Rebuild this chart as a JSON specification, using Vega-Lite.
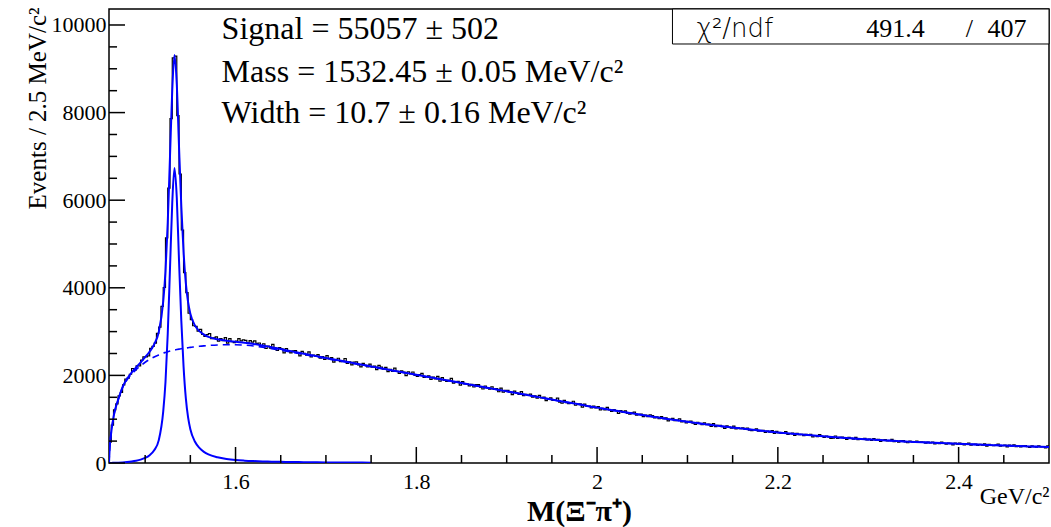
{
"$schema": "https://vega.github.io/schema/vega-lite/v6.json",
"width": 940, "height": 454,
"autosize": {"type": "none"},
"padding": {"left": 109, "top": 9, "right": 2, "bottom": 64},
"background": "white",
"config": {
 "view": {"stroke": "black", "strokeWidth": 1.5},
 "font": "Liberation Serif",
 "axis": {"grid": false, "domain": false, "ticks": false, "labelColor": "black", "titleColor": "black", "labelFont": "Liberation Serif", "titleFont": "Liberation Serif"}
},
"datasets": {
"xmaj": [{"v":1.6},{"v":1.8},{"v":2.0},{"v":2.2},{"v":2.4}],
"xmin": [{"v":1.5},{"v":1.55},{"v":1.65},{"v":1.7},{"v":1.75},{"v":1.85},{"v":1.9},{"v":1.95},{"v":2.05},{"v":2.1},{"v":2.15},{"v":2.25},{"v":2.3},{"v":2.35},{"v":2.45}],
"ymaj": [{"v":0},{"v":2000},{"v":4000},{"v":6000},{"v":8000},{"v":10000}],
"ymin": [{"v":500},{"v":1000},{"v":1500},{"v":2500},{"v":3000},{"v":3500},{"v":4500},{"v":5000},{"v":5500},{"v":6500},{"v":7000},{"v":7500},{"v":8500},{"v":9000},{"v":9500}],
"hist": [
{"m":1.46,"n":478},{"m":1.4625,"n":864},{"m":1.465,"n":1213},{"m":1.4675,"n":1350},{"m":1.47,"n":1533},{"m":1.4725,"n":1610},{"m":1.475,"n":1785},{"m":1.4775,"n":1914},{"m":1.48,"n":1936},{"m":1.4825,"n":2026},{"m":1.485,"n":2157},{"m":1.4875,"n":2119},{"m":1.49,"n":2218},{"m":1.4925,"n":2219},{"m":1.495,"n":2349},{"m":1.4975,"n":2423},{"m":1.5,"n":2424},{"m":1.5025,"n":2447},{"m":1.505,"n":2615},{"m":1.5075,"n":2664},{"m":1.51,"n":2735},{"m":1.5125,"n":2960},{"m":1.515,"n":3101},{"m":1.5175,"n":3574},{"m":1.52,"n":4007},{"m":1.5225,"n":5138},{"m":1.525,"n":6276},{"m":1.5275,"n":7860},{"m":1.53,"n":9250},{"m":1.5325,"n":9290},{"m":1.535,"n":7930},{"m":1.5375,"n":6598},{"m":1.54,"n":5320},{"m":1.5425,"n":4348},{"m":1.545,"n":3889},{"m":1.5475,"n":3419},{"m":1.55,"n":3274},{"m":1.5525,"n":3133},{"m":1.555,"n":3119},{"m":1.5575,"n":3009},
{"m":1.56,"n":3049},{"m":1.5625,"n":2937},{"m":1.565,"n":2891},{"m":1.5675,"n":2931},{"m":1.57,"n":2952},{"m":1.5725,"n":2837},{"m":1.575,"n":2859},{"m":1.5775,"n":2878},{"m":1.58,"n":2784},{"m":1.5825,"n":2841},{"m":1.585,"n":2795},{"m":1.5875,"n":2864},{"m":1.59,"n":2738},{"m":1.5925,"n":2840},{"m":1.595,"n":2769},{"m":1.5975,"n":2747},{"m":1.6,"n":2782},{"m":1.6025,"n":2838},{"m":1.605,"n":2790},{"m":1.6075,"n":2810},{"m":1.61,"n":2800},{"m":1.6125,"n":2740},{"m":1.615,"n":2795},{"m":1.6175,"n":2760},{"m":1.62,"n":2790},{"m":1.6225,"n":2730},{"m":1.625,"n":2740},{"m":1.6275,"n":2673},{"m":1.63,"n":2722},{"m":1.6325,"n":2614},{"m":1.635,"n":2670},{"m":1.6375,"n":2620},{"m":1.64,"n":2707},{"m":1.6425,"n":2625},{"m":1.645,"n":2573},{"m":1.6475,"n":2635},{"m":1.65,"n":2604},{"m":1.6525,"n":2516},{"m":1.655,"n":2614},{"m":1.6575,"n":2557},
{"m":1.66,"n":2512},{"m":1.6625,"n":2561},{"m":1.665,"n":2566},{"m":1.6675,"n":2515},{"m":1.67,"n":2446},{"m":1.6725,"n":2550},{"m":1.675,"n":2501},{"m":1.6775,"n":2460},{"m":1.68,"n":2539},{"m":1.6825,"n":2425},{"m":1.685,"n":2465},{"m":1.6875,"n":2440},{"m":1.69,"n":2475},{"m":1.6925,"n":2395},{"m":1.695,"n":2431},{"m":1.6975,"n":2366},{"m":1.7,"n":2451},{"m":1.7025,"n":2377},{"m":1.705,"n":2407},{"m":1.7075,"n":2303},{"m":1.71,"n":2362},{"m":1.7125,"n":2391},{"m":1.715,"n":2314},{"m":1.7175,"n":2323},{"m":1.72,"n":2386},{"m":1.7225,"n":2275},{"m":1.725,"n":2309},{"m":1.7275,"n":2241},{"m":1.73,"n":2304},{"m":1.7325,"n":2307},{"m":1.735,"n":2241},{"m":1.7375,"n":2194},{"m":1.74,"n":2274},{"m":1.7425,"n":2231},{"m":1.745,"n":2194},{"m":1.7475,"n":2259},{"m":1.75,"n":2189},{"m":1.7525,"n":2212},{"m":1.755,"n":2131},{"m":1.7575,"n":2230},
{"m":1.76,"n":2192},{"m":1.7625,"n":2141},{"m":1.765,"n":2183},{"m":1.7675,"n":2085},{"m":1.77,"n":2136},{"m":1.7725,"n":2090},{"m":1.775,"n":2167},{"m":1.7775,"n":2093},{"m":1.78,"n":2047},{"m":1.7825,"n":2102},{"m":1.785,"n":2075},{"m":1.7875,"n":1996},{"m":1.79,"n":2083},{"m":1.7925,"n":2032},{"m":1.795,"n":2078},{"m":1.7975,"n":2000},{"m":1.8,"n":1975},{"m":1.8025,"n":2021},{"m":1.805,"n":2048},{"m":1.8075,"n":1952},{"m":1.81,"n":1975},{"m":1.8125,"n":1992},{"m":1.815,"n":1911},{"m":1.8175,"n":1960},{"m":1.82,"n":1919},{"m":1.8225,"n":1977},{"m":1.825,"n":1866},{"m":1.8275,"n":1948},{"m":1.83,"n":1886},{"m":1.8325,"n":1863},{"m":1.835,"n":1889},{"m":1.8375,"n":1932},{"m":1.84,"n":1822},{"m":1.8425,"n":1848},{"m":1.845,"n":1865},{"m":1.8475,"n":1777},{"m":1.85,"n":1858},{"m":1.8525,"n":1805},{"m":1.855,"n":1809},{"m":1.8575,"n":1761},
{"m":1.86,"n":1793},{"m":1.8625,"n":1735},{"m":1.865,"n":1788},{"m":1.8675,"n":1790},{"m":1.87,"n":1732},{"m":1.8725,"n":1689},{"m":1.875,"n":1758},{"m":1.8775,"n":1720},{"m":1.88,"n":1685},{"m":1.8825,"n":1741},{"m":1.885,"n":1679},{"m":1.8875,"n":1697},{"m":1.89,"n":1627},{"m":1.8925,"n":1711},{"m":1.895,"n":1616},{"m":1.8975,"n":1656},{"m":1.9,"n":1658},{"m":1.9025,"n":1617},{"m":1.905,"n":1560},{"m":1.9075,"n":1642},{"m":1.91,"n":1601},{"m":1.9125,"n":1567},{"m":1.915,"n":1630},{"m":1.9175,"n":1537},{"m":1.92,"n":1567},{"m":1.9225,"n":1546},{"m":1.925,"n":1572},{"m":1.9275,"n":1506},{"m":1.93,"n":1533},{"m":1.9325,"n":1480},{"m":1.935,"n":1544},{"m":1.9375,"n":1485},{"m":1.94,"n":1506},{"m":1.9425,"n":1424},{"m":1.945,"n":1469},{"m":1.9475,"n":1489},{"m":1.95,"n":1427},{"m":1.9525,"n":1432},{"m":1.955,"n":1480},{"m":1.9575,"n":1392},
{"m":1.96,"n":1364},{"m":1.9625,"n":1430},{"m":1.965,"n":1378},{"m":1.9675,"n":1357},{"m":1.97,"n":1377},{"m":1.9725,"n":1410},{"m":1.975,"n":1319},{"m":1.9775,"n":1338},{"m":1.98,"n":1350},{"m":1.9825,"n":1276},{"m":1.985,"n":1343},{"m":1.9875,"n":1297},{"m":1.99,"n":1299},{"m":1.9925,"n":1256},{"m":1.995,"n":1298},{"m":1.9975,"n":1256},{"m":2,"n":1288},{"m":2.0025,"n":1212},{"m":2.005,"n":1250},{"m":2.0075,"n":1214},{"m":2.01,"n":1272},{"m":2.0125,"n":1214},{"m":2.015,"n":1177},{"m":2.0175,"n":1219},{"m":2.02,"n":1194},{"m":2.0225,"n":1134},{"m":2.025,"n":1198},{"m":2.0275,"n":1158},{"m":2.03,"n":1191},{"m":2.0325,"n":1131},{"m":2.035,"n":1113},{"m":2.0375,"n":1144},{"m":2.04,"n":1163},{"m":2.0425,"n":1092},{"m":2.045,"n":1107},{"m":2.0475,"n":1119},{"m":2.05,"n":1058},{"m":2.0525,"n":1093},{"m":2.055,"n":1061},{"m":2.0575,"n":1102},
{"m":2.06,"n":1083},{"m":2.0625,"n":1031},{"m":2.065,"n":1052},{"m":2.0675,"n":1010},{"m":2.07,"n":1061},{"m":2.0725,"n":1013},{"m":2.075,"n":1031},{"m":2.0775,"n":964},{"m":2.08,"n":999},{"m":2.0825,"n":1017},{"m":2.085,"n":966},{"m":2.0875,"n":971},{"m":2.09,"n":1009},{"m":2.0925,"n":938},{"m":2.095,"n":957},{"m":2.0975,"n":914},{"m":2.1,"n":952},{"m":2.1025,"n":954},{"m":2.105,"n":911},{"m":2.1075,"n":880},{"m":2.11,"n":930},{"m":2.1125,"n":902},{"m":2.115,"n":877},{"m":2.1175,"n":918},{"m":2.12,"n":873},{"m":2.1225,"n":887},{"m":2.125,"n":837},{"m":2.1275,"n":897},{"m":2.13,"n":830},{"m":2.1325,"n":858},{"m":2.135,"n":860},{"m":2.1375,"n":830},{"m":2.14,"n":790},{"m":2.1425,"n":850},{"m":2.145,"n":821},{"m":2.1475,"n":798},{"m":2.15,"n":843},{"m":2.1525,"n":777},{"m":2.155,"n":800},{"m":2.1575,"n":785},
{"m":2.16,"n":800},{"m":2.1625,"n":772},{"m":2.165,"n":797},{"m":2.1675,"n":752},{"m":2.17,"n":739},{"m":2.1725,"n":764},{"m":2.175,"n":780},{"m":2.1775,"n":725},{"m":2.18,"n":737},{"m":2.1825,"n":748},{"m":2.185,"n":701},{"m":2.1875,"n":730},{"m":2.19,"n":706},{"m":2.1925,"n":740},{"m":2.195,"n":675},{"m":2.1975,"n":724},{"m":2.2,"n":688},{"m":2.2025,"n":675},{"m":2.205,"n":691},{"m":2.2075,"n":717},{"m":2.21,"n":654},{"m":2.2125,"n":669},{"m":2.215,"n":680},{"m":2.2175,"n":628},{"m":2.22,"n":679},{"m":2.2225,"n":648},{"m":2.225,"n":652},{"m":2.2275,"n":624},{"m":2.23,"n":656},{"m":2.2325,"n":628},{"m":2.235,"n":652},{"m":2.2375,"n":598},{"m":2.24,"n":628},{"m":2.2425,"n":604},{"m":2.245,"n":647},{"m":2.2475,"n":609},{"m":2.25,"n":585},{"m":2.2525,"n":615},{"m":2.255,"n":601},{"m":2.2575,"n":561},
{"m":2.26,"n":566},{"m":2.2625,"n":616},{"m":2.265,"n":563},{"m":2.2675,"n":587},{"m":2.27,"n":591},{"m":2.2725,"n":568},{"m":2.275,"n":538},{"m":2.2775,"n":587},{"m":2.28,"n":564},{"m":2.2825,"n":547},{"m":2.285,"n":586},{"m":2.2875,"n":535},{"m":2.29,"n":554},{"m":2.2925,"n":544},{"m":2.295,"n":561},{"m":2.2975,"n":526},{"m":2.3,"n":543},{"m":2.3025,"n":515},{"m":2.305,"n":555},{"m":2.3075,"n":522},{"m":2.31,"n":538},{"m":2.3125,"n":491},{"m":2.315,"n":520},{"m":2.3175,"n":536},{"m":2.32,"n":502},{"m":2.3225,"n":508},{"m":2.325,"n":539},{"m":2.3275,"n":488},{"m":2.33,"n":506},{"m":2.3325,"n":477},{"m":2.335,"n":507},{"m":2.3375,"n":511},{"m":2.34,"n":482},{"m":2.3425,"n":462},{"m":2.345,"n":501},{"m":2.3475,"n":483},{"m":2.35,"n":468},{"m":2.3525,"n":500},{"m":2.355,"n":469},{"m":2.3575,"n":482},
{"m":2.36,"n":473},{"m":2.3625,"n":451},{"m":2.365,"n":479},{"m":2.3675,"n":458},{"m":2.37,"n":478},{"m":2.3725,"n":436},{"m":2.375,"n":460},{"m":2.3775,"n":441},{"m":2.38,"n":479},{"m":2.3825,"n":448},{"m":2.385,"n":429},{"m":2.3875,"n":456},{"m":2.39,"n":446},{"m":2.3925,"n":412},{"m":2.395,"n":454},{"m":2.3975,"n":433},{"m":2.4,"n":456},{"m":2.4025,"n":423},{"m":2.405,"n":414},{"m":2.4075,"n":437},{"m":2.41,"n":452},{"m":2.4125,"n":410},{"m":2.415,"n":423},{"m":2.4175,"n":434},{"m":2.42,"n":399},{"m":2.4225,"n":423},{"m":2.425,"n":407},{"m":2.4275,"n":435},{"m":2.43,"n":387},{"m":2.4325,"n":428},{"m":2.435,"n":402},{"m":2.4375,"n":394},{"m":2.44,"n":408},{"m":2.4425,"n":430},{"m":2.445,"n":383},{"m":2.4475,"n":397},{"m":2.45,"n":407},{"m":2.4525,"n":369},{"m":2.455,"n":410},{"m":2.4575,"n":388},
{"m":2.46,"n":417},{"m":2.4625,"n":376},{"m":2.465,"n":391},{"m":2.4675,"n":366},{"m":2.47,"n":394},{"m":2.4725,"n":397},{"m":2.475,"n":373},{"m":2.4775,"n":356},{"m":2.48,"n":390},{"m":2.4825,"n":375},{"m":2.485,"n":363},{"m":2.4875,"n":391},{"m":2.49,"n":365},{"m":2.4925,"n":377},{"m":2.495,"n":347},{"m":2.4975,"n":389},{"m":2.5,"n":389}
],
"curve": [
{"m":1.46,"bkg":0,"sig":0,"tot":0},{"m":1.461,"bkg":420,"sig":1,"tot":421},{"m":1.462,"bkg":620,"sig":1,"tot":621},{"m":1.464,"bkg":920,"sig":3,"tot":923},{"m":1.466,"bkg":1150,"sig":4,"tot":1154},{"m":1.468,"bkg":1300,"sig":6,"tot":1306},{"m":1.47,"bkg":1430,"sig":8,"tot":1438},{"m":1.475,"bkg":1720,"sig":14,"tot":1734},{"m":1.48,"bkg":1900,"sig":23,"tot":1923},{"m":1.485,"bkg":2030,"sig":35,"tot":2065},{"m":1.49,"bkg":2130,"sig":52,"tot":2182},{"m":1.495,"bkg":2220,"sig":77,"tot":2297},{"m":1.5,"bkg":2300,"sig":116,"tot":2416},{"m":1.505,"bkg":2365,"sig":179,"tot":2544},{"m":1.51,"bkg":2420,"sig":290,"tot":2710},{"m":1.515,"bkg":2468,"sig":517,"tot":2985},{"m":1.52,"bkg":2510,"sig":1180,"tot":3690},{"m":1.5225,"bkg":2525,"sig":1850,"tot":4375},{"m":1.525,"bkg":2540,"sig":2950,"tot":5490},{"m":1.5275,"bkg":2555,"sig":4450,"tot":7005},{"m":1.53,"bkg":2570,"sig":5950,"tot":8520},{"m":1.53245,"bkg":2580,"sig":6735,"tot":9315},{"m":1.535,"bkg":2590,"sig":6050,"tot":8640},{"m":1.5375,"bkg":2600,"sig":4600,"tot":7200},{"m":1.54,"bkg":2610,"sig":3250,"tot":5860},{"m":1.5425,"bkg":2617,"sig":2200,"tot":4817},{"m":1.545,"bkg":2625,"sig":1480,"tot":4105},{"m":1.5475,"bkg":2632,"sig":1040,"tot":3672},{"m":1.55,"bkg":2640,"sig":770,"tot":3410},{"m":1.555,"bkg":2652,"sig":490,"tot":3142},{"m":1.56,"bkg":2665,"sig":345,"tot":3010},{"m":1.565,"bkg":2675,"sig":255,"tot":2930},{"m":1.57,"bkg":2683,"sig":195,"tot":2878},{"m":1.58,"bkg":2695,"sig":130,"tot":2825},{"m":1.59,"bkg":2700,"sig":92,"tot":2792},{"m":1.6,"bkg":2698,"sig":68,"tot":2766},{"m":1.61,"bkg":2690,"sig":54,"tot":2744},{"m":1.62,"bkg":2672,"sig":44,"tot":2716},{"m":1.63,"bkg":2645,"sig":36,"tot":2681},{"m":1.64,"bkg":2612,"sig":31,"tot":2643},{"m":1.65,"bkg":2575,"sig":26,"tot":2601},{"m":1.66,"bkg":2537,"sig":23,"tot":2560},{"m":1.67,"bkg":2498,"sig":20,"tot":2518},{"m":1.68,"bkg":2460,"sig":18,"tot":2478},{"m":1.7,"bkg":2385,"sig":14,"tot":2399},{"m":1.72,"bkg":2310,"sig":11,"tot":2321},{"m":1.74,"bkg":2235,"sig":9,"tot":2244},{"m":1.75,"bkg":2198,"sig":8,"tot":2206},
{"m":1.76,"bkg":2160,"tot":2167},{"m":1.78,"bkg":2085,"tot":2091},{"m":1.8,"bkg":2010,"tot":2015},{"m":1.82,"bkg":1935,"tot":1939},{"m":1.84,"bkg":1860,"tot":1864},{"m":1.86,"bkg":1785,"tot":1788},{"m":1.88,"bkg":1710,"tot":1712},{"m":1.9,"bkg":1635,"tot":1637},{"m":1.92,"bkg":1560,"tot":1562},{"m":1.94,"bkg":1485,"tot":1487},{"m":1.96,"bkg":1410,"tot":1412},{"m":1.98,"bkg":1337,"tot":1339},{"m":2,"bkg":1262,"tot":1264},{"m":2.02,"bkg":1195,"tot":1197},{"m":2.04,"bkg":1127,"tot":1129},{"m":2.06,"bkg":1062,"tot":1064},{"m":2.08,"bkg":1000,"tot":1001},{"m":2.1,"bkg":940,"tot":941},{"m":2.12,"bkg":885,"tot":886},{"m":2.14,"bkg":833,"tot":834},{"m":2.16,"bkg":785,"tot":786},{"m":2.18,"bkg":740,"tot":741},{"m":2.2,"bkg":698,"tot":699},{"m":2.22,"bkg":660,"tot":661},{"m":2.24,"bkg":625,"tot":626},{"m":2.26,"bkg":593,"tot":594},{"m":2.28,"bkg":564,"tot":565},{"m":2.3,"bkg":538,"tot":539},{"m":2.32,"bkg":514,"tot":515},{"m":2.34,"bkg":492,"tot":493},{"m":2.36,"bkg":472,"tot":473},{"m":2.38,"bkg":453,"tot":454},{"m":2.4,"bkg":436,"tot":437},{"m":2.42,"bkg":420,"tot":421},{"m":2.44,"bkg":405,"tot":406},{"m":2.46,"bkg":391,"tot":392},{"m":2.48,"bkg":378,"tot":379},{"m":2.5,"bkg":366,"tot":367}
]
},
"layer": [
 {"data": {"name": "hist"},
  "mark": {"type": "line", "interpolate": "step-after", "color": "black", "strokeWidth": 1.2, "clip": true},
  "encoding": {
   "x": {"field": "m", "type": "quantitative", "scale": {"domain": [1.46, 2.5], "nice": false, "zero": false},
     "axis": {"orient": "bottom", "values": [1.6, 1.8, 2, 2.2, 2.4], "format": "~g", "labelFontSize": 22, "labelPadding": 8,
       "title": "M(Ξ⁻π⁺)", "titleFontSize": 30, "titleFontWeight": "bold", "titleX": 470, "titleY": 57, "titleAlign": "center", "titleBaseline": "alphabetic"}},
   "y": {"field": "n", "type": "quantitative", "scale": {"domain": [0, 10365], "nice": false, "zero": true},
     "axis": {"orient": "left", "values": [0, 2000, 4000, 6000, 8000, 10000], "format": "d", "labelFontSize": 22, "labelPadding": 3,
       "title": "Events / 2.5 MeV/c²", "titleFontSize": 25, "titleFontWeight": "normal", "titleAngle": 270, "titleAlign": "right", "titleBaseline": "alphabetic", "titleX": -64, "titleY": -2}}
  }},
 {"data": {"name": "curve"},
  "mark": {"type": "line", "interpolate": "monotone", "color": "#0000ff", "strokeWidth": 1.6, "strokeDash": [7, 5], "clip": true},
  "encoding": {
   "x": {"field": "m", "type": "quantitative",
     "axis": {"orient": "bottom", "values": [], "labels": false,
       "title": "GeV/c²", "titleFontSize": 24, "titleFontWeight": "normal", "titleX": 940, "titleY": 40, "titleAlign": "right", "titleBaseline": "alphabetic"}},
   "y": {"field": "bkg", "type": "quantitative", "axis": null}
  }},
 {"data": {"name": "curve"},
  "transform": [{"filter": "isValid(datum.sig)"}],
  "mark": {"type": "line", "interpolate": "monotone", "color": "#0000ff", "strokeWidth": 2, "clip": true},
  "encoding": {
   "x": {"field": "m", "type": "quantitative", "axis": null},
   "y": {"field": "sig", "type": "quantitative", "axis": null}
  }},
 {"data": {"name": "curve"},
  "mark": {"type": "line", "interpolate": "monotone", "color": "#0000ff", "strokeWidth": 2, "clip": true},
  "encoding": {
   "x": {"field": "m", "type": "quantitative", "axis": null},
   "y": {"field": "tot", "type": "quantitative", "axis": null}
  }},
 {"data": {"name": "xmaj"},
  "mark": {"type": "rule", "color": "#000000", "strokeWidth": 1.5},
  "encoding": {"x": {"field": "v", "type": "quantitative", "axis": null}, "y": {"datum": 0, "type": "quantitative", "axis": null}, "y2": {"datum": 365}}},
 {"data": {"name": "xmin"},
  "mark": {"type": "rule", "color": "#000000", "strokeWidth": 1.5},
  "encoding": {"x": {"field": "v", "type": "quantitative", "axis": null}, "y": {"datum": 0, "type": "quantitative", "axis": null}, "y2": {"datum": 183}}},
 {"data": {"name": "ymaj"},
  "mark": {"type": "rule", "color": "#000000", "strokeWidth": 1.5},
  "encoding": {"y": {"field": "v", "type": "quantitative", "axis": null}, "x": {"datum": 1.46, "type": "quantitative", "axis": null}, "x2": {"datum": 1.4777}}},
 {"data": {"name": "ymin"},
  "mark": {"type": "rule", "color": "#000000", "strokeWidth": 1.5},
  "encoding": {"y": {"field": "v", "type": "quantitative", "axis": null}, "x": {"datum": 1.46, "type": "quantitative", "axis": null}, "x2": {"datum": 1.4689}}},
 {"data": {"values": [{}]},
  "mark": {"type": "text", "text": "Signal = 55057 ± 502", "font": "Liberation Serif", "fontSize": 32, "align": "left", "baseline": "alphabetic", "color": "black"},
  "encoding": {"x": {"datum": 1.5846, "type": "quantitative", "axis": null}, "y": {"datum": 9673, "type": "quantitative", "axis": null}}},
 {"data": {"values": [{}]},
  "mark": {"type": "text", "text": "Mass = 1532.45 ± 0.05 MeV/c²", "font": "Liberation Serif", "fontSize": 32, "align": "left", "baseline": "alphabetic", "color": "black"},
  "encoding": {"x": {"datum": 1.5846, "type": "quantitative", "axis": null}, "y": {"datum": 8705, "type": "quantitative", "axis": null}}},
 {"data": {"values": [{}]},
  "mark": {"type": "text", "text": "Width = 10.7 ± 0.16 MeV/c²", "font": "Liberation Serif", "fontSize": 32, "align": "left", "baseline": "alphabetic", "color": "black"},
  "encoding": {"x": {"datum": 1.5846, "type": "quantitative", "axis": null}, "y": {"datum": 7769, "type": "quantitative", "axis": null}}},
 {"data": {"values": [{}]},
  "mark": {"type": "rect", "fill": "white", "stroke": "black", "strokeWidth": 1},
  "encoding": {"x": {"datum": 2.0834, "type": "quantitative", "axis": null}, "x2": {"datum": 2.5}, "y": {"datum": 10365, "type": "quantitative", "axis": null}, "y2": {"datum": 9566}}},
 {"data": {"values": [{}]},
  "mark": {"type": "text", "text": "χ²/ndf", "font": "DejaVu Sans", "fontWeight": 200, "fontSize": 26, "align": "left", "baseline": "alphabetic", "color": "black"},
  "encoding": {"x": {"datum": 2.11, "type": "quantitative", "axis": null}, "y": {"datum": 9733, "type": "quantitative", "axis": null}}},
 {"data": {"values": [{}]},
  "mark": {"type": "text", "text": "491.4", "font": "Liberation Serif", "fontSize": 26, "align": "left", "baseline": "alphabetic", "color": "black"},
  "encoding": {"x": {"datum": 2.2977, "type": "quantitative", "axis": null}, "y": {"datum": 9733, "type": "quantitative", "axis": null}}},
 {"data": {"values": [{}]},
  "mark": {"type": "text", "text": "/", "font": "Liberation Serif", "fontSize": 26, "align": "center", "baseline": "alphabetic", "color": "black"},
  "encoding": {"x": {"datum": 2.4119, "type": "quantitative", "axis": null}, "y": {"datum": 9733, "type": "quantitative", "axis": null}}},
 {"data": {"values": [{}]},
  "mark": {"type": "text", "text": "407", "font": "Liberation Serif", "fontSize": 26, "align": "left", "baseline": "alphabetic", "color": "black"},
  "encoding": {"x": {"datum": 2.4319, "type": "quantitative", "axis": null}, "y": {"datum": 9733, "type": "quantitative", "axis": null}}}
],
"resolve": {"axis": {"x": "independent", "y": "independent"}}
}
